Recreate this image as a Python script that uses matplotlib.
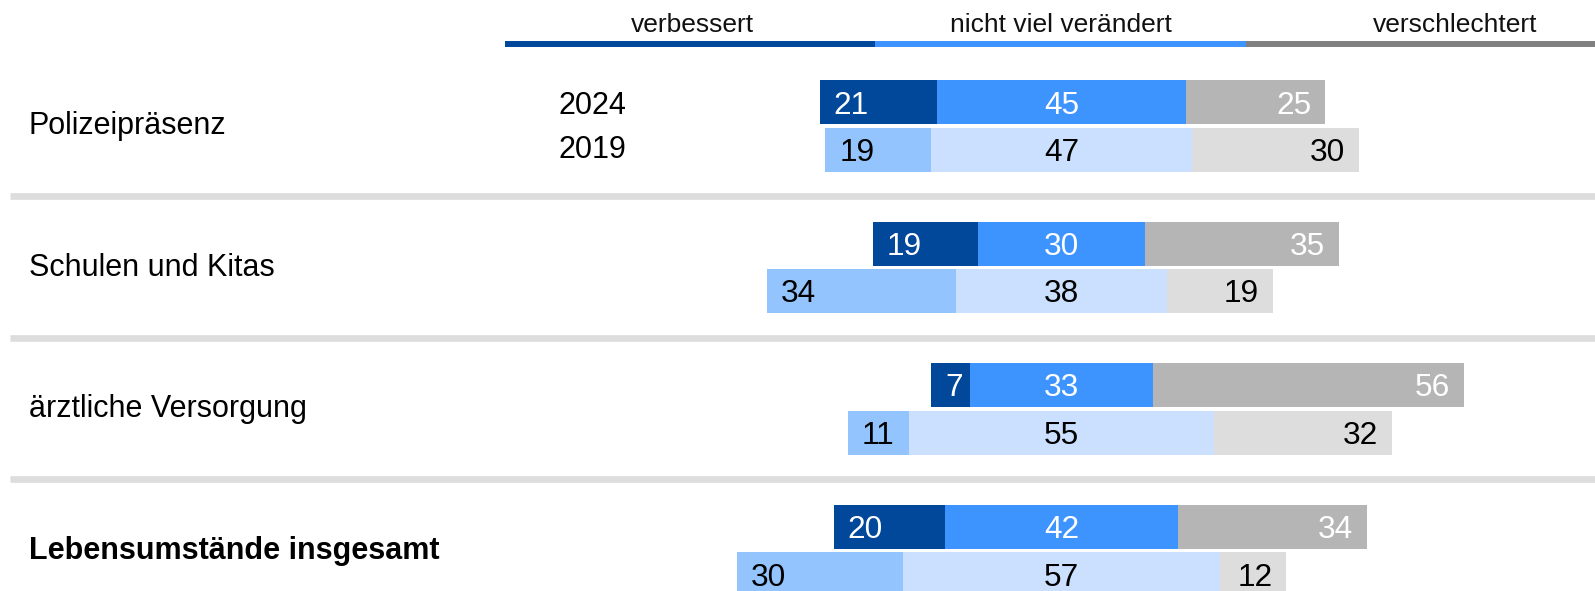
import matplotlib
matplotlib.use("Agg")
import matplotlib.pyplot as plt
from matplotlib.transforms import blended_transform_factory

# ---- data ----
categories = ["Polizeipräsenz", "Schulen und Kitas", "ärztliche Versorgung", "Lebensumstände insgesamt"]
years = ["2024", "2019"]
legend_labels = ["verbessert", "nicht viel verändert", "verschlechtert"]
improved_2024 = [21, 19, 7, 20]
neutral_2024 = [45, 30, 33, 42]
worse_2024 = [25, 35, 56, 34]
improved_2019 = [19, 34, 11, 30]
neutral_2019 = [47, 38, 55, 57]
worse_2019 = [30, 19, 32, 12]

# ---- style ----
W, H, DPI = 1595, 591, 100
PX_PER_UNIT = 5.555
CENTER_PX = 1061.5
FONT = "Liberation Sans"
colors_2024 = ["#01489b", "#3d94ff", "#b5b5b5"]
colors_2019 = ["#93c4fe", "#cae0fe", "#dddddd"]
legend_colors = ["#01489b", "#3d94ff", "#808080"]
txt_2024 = "white"
txt_2019 = "black"

fig = plt.figure(figsize=(W / DPI, H / DPI), dpi=DPI)
ax = fig.add_axes([0, 0, 1, 1])
ax.set_xlim(-CENTER_PX / PX_PER_UNIT, (W - CENTER_PX) / PX_PER_UNIT)
ax.set_ylim(H, 0)
ax.axis("off")

bar_h = 44
group_step = 141.5
y0_2024 = 102
y_off_2019 = 47.5
pad = 14 / PX_PER_UNIT
fs_num = 22.8
fs_cat = 22.0

blend = blended_transform_factory(ax.transAxes, ax.transData)


def draw_bar(y, vals, cols, tcol):
    a, b, c = vals
    left = -(a + b / 2)
    lefts = [left, left + a, left + a + b]
    for lft, v, col in zip(lefts, vals, cols):
        ax.barh(y, v, left=lft, height=bar_h, color=col, edgecolor="none")
    ax.text(lefts[0] + pad, y, str(a), ha="left", va="center_baseline", color=tcol,
            fontsize=fs_num, family=FONT)
    ax.text(lefts[1] + b / 2, y, str(b), ha="center", va="center_baseline", color=tcol,
            fontsize=fs_num, family=FONT)
    ax.text(lefts[2] + c - pad, y, str(c), ha="right", va="center_baseline", color=tcol,
            fontsize=fs_num, family=FONT)


for i, cat in enumerate(categories):
    y1 = y0_2024 + i * group_step
    y2 = y1 + y_off_2019
    draw_bar(y1, (improved_2024[i], neutral_2024[i], worse_2024[i]), colors_2024, txt_2024)
    draw_bar(y2, (improved_2019[i], neutral_2019[i], worse_2019[i]), colors_2019, txt_2019)
    bold = i == len(categories) - 1
    ax.text(28.5 / W, (y1 + y2) / 2 - 3, cat, transform=blend, ha="left", va="center_baseline",
            fontsize=fs_cat, family=FONT, fontweight="bold" if bold else "normal", color="black")
    if i < len(categories) - 1:
        ys = (y2 + y1 + group_step) / 2 - 0.5
        ax.plot([10 / W, 1], [ys, ys], transform=blend, color="#dddddd", lw=4.8,
                solid_capstyle="butt")

# year labels
ax.text(558 / W, y0_2024, years[0], transform=blend, ha="left", va="center_baseline",
        fontsize=fs_cat, family=FONT)
ax.text(558 / W, y0_2024 + y_off_2019 - 2.5, years[1], transform=blend, ha="left",
        va="center_baseline", fontsize=fs_cat, family=FONT)

# legend header
seg_edges = [505, 875, 1246, 1595]
label_x = [692, 1061, 1455]
for k in range(3):
    ax.plot([seg_edges[k] / W, seg_edges[k + 1] / W], [43.5, 43.5], transform=blend,
            color=legend_colors[k], lw=4.3, solid_capstyle="butt")
    ax.text(label_x[k] / W, 22, legend_labels[k], transform=blend, ha="center",
            va="center_baseline", fontsize=19.0, family=FONT, color="#111111")

fig.savefig("out.png", dpi=DPI, facecolor="white")
